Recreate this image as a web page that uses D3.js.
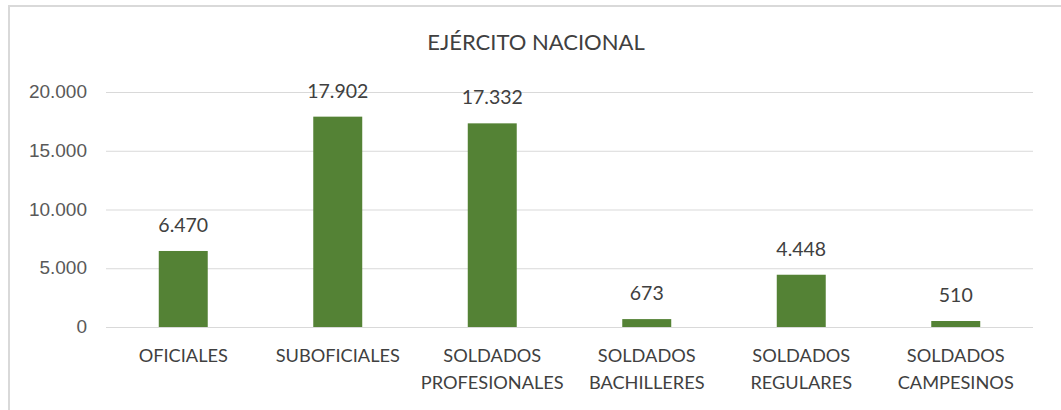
<!DOCTYPE html>
<html>
<head>
<meta charset="utf-8">
<script src="https://cdn.jsdelivr.net/npm/d3@7"></script>
<style>
  body { margin: 0; background: #fff; }
  svg { display: block; font-family: Lato, "Liberation Sans", sans-serif; }
</style>
</head>
<body>
<svg width="1061" height="410"></svg>
<script>
// chart data
var categories = [
  ["OFICIALES"],
  ["SUBOFICIALES"],
  ["SOLDADOS", "PROFESIONALES"],
  ["SOLDADOS", "BACHILLERES"],
  ["SOLDADOS", "REGULARES"],
  ["SOLDADOS", "CAMPESINOS"]
];
var values = [6470, 17902, 17332, 673, 4448, 510];
var yTicks = [0, 5000, 10000, 15000, 20000];
var title = "EJÉRCITO NACIONAL";

var svg = d3.select("svg");
var width = 1061, height = 410;

var margin = { top: 92, bottom: 83, left: 106, right: 28 };

// es-ES style thousands separator
var fmt = function(v) {
  return d3.format(",")(v).replace(/,/g, ".");
};

// outer frame
svg.append("rect")
  .attr("x", 9)
  .attr("y", 6)
  .attr("width", width + 10)
  .attr("height", height + 10)
  .attr("fill", "#fff")
  .attr("stroke", "#d9d9d9")
  .attr("stroke-width", 2);

var x = d3.scaleBand()
  .domain(d3.range(categories.length))
  .range([margin.left, width - margin.right])
  .paddingInner(0.683)
  .paddingOuter(0.3415);

var y = d3.scaleLinear()
  .domain([0, 20000])
  .range([327, margin.top]);

// gridlines + y labels
var yAxis = d3.axisLeft(y)
  .tickValues(yTicks)
  .tickSize(-(width - margin.right - margin.left))
  .tickPadding(19)
  .tickFormat(fmt);

var gy = svg.append("g")
  .attr("transform", "translate(" + margin.left + ",0)")
  .call(yAxis);
gy.select(".domain").remove();
gy.selectAll(".tick line").attr("stroke", "#d9d9d9").attr("stroke-width", 1);
gy.selectAll(".tick text")
  .attr("fill", "#595959")
  .attr("font-size", "19px")
  .attr("dy", "0.3em");

// bars
svg.selectAll("rect.bar")
  .data(values)
  .enter()
  .append("rect")
  .attr("class", "bar")
  .attr("x", function(d, i) { return x(i); })
  .attr("y", function(d) { return y(d); })
  .attr("width", x.bandwidth())
  .attr("height", function(d) { return y(0) - y(d); })
  .attr("fill", "#548235");

// data labels
svg.selectAll("text.val")
  .data(values)
  .enter()
  .append("text")
  .attr("class", "val")
  .attr("x", function(d, i) { return x(i) + x.bandwidth() / 2; })
  .attr("y", function(d) { return y(d) - 19; })
  .attr("text-anchor", "middle")
  .attr("fill", "#404040")
  .attr("font-size", "19.5px")
  .text(function(d) { return fmt(d); });

// x labels
var xl = svg.selectAll("text.cat")
  .data(categories)
  .enter()
  .append("text")
  .attr("class", "cat")
  .attr("text-anchor", "middle")
  .attr("fill", "#404040")
  .attr("font-size", "18.2px");
xl.selectAll("tspan")
  .data(function(d, i) { return d.map(function(s) { return { s: s, i: i }; }); })
  .enter()
  .append("tspan")
  .attr("x", function(d) { return x(d.i) + x.bandwidth() / 2; })
  .attr("y", function(d, j) { return 362 + j * 27; })
  .text(function(d) { return d.s; });

// title
svg.append("text")
  .attr("x", 536)
  .attr("y", 50)
  .attr("text-anchor", "middle")
  .attr("fill", "#404040")
  .attr("font-size", "22px")
  .text(title);
</script>
</body>
</html>
